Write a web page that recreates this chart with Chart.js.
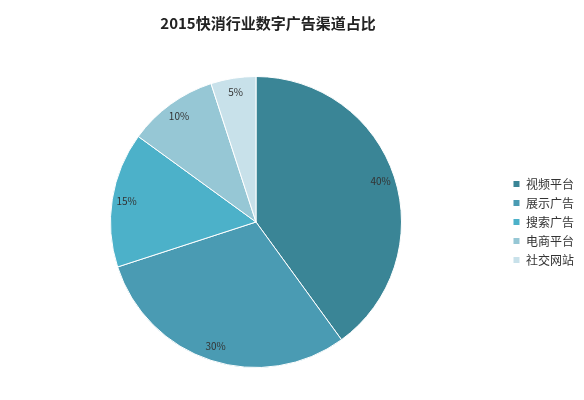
<!DOCTYPE html>
<html><head><meta charset="utf-8">
<script src="https://cdn.jsdelivr.net/npm/chart.js@4"></script>
<style>body{margin:0;background:#fff}#w{width:584px;height:400px}</style>
</head><body><div id="w"><canvas id="c"></canvas></div>
<script>
const categories = ['视频平台','展示广告','搜索广告','电商平台','社交网站'];
const values = [40, 30, 15, 10, 5];
const colors = ['#3a8596','#4a9bb3','#4cb1c9','#96c7d5','#c8e1ea'];
const title = '2015快消行业数字广告渠道占比';
const labelPlugin = {
  id: 'lbl',
  afterDatasetsDraw(chart) {
    const ctx = chart.ctx;
    ctx.save();
    ctx.font = '10px "Noto Sans CJK SC", sans-serif';
    ctx.fillStyle = '#333';
    ctx.textAlign = 'center'; ctx.textBaseline = 'middle';
    chart.getDatasetMeta(0).data.forEach((a, i) => {
      const m = (a.startAngle + a.endAngle) / 2, r = a.outerRadius * 0.9;
      ctx.fillText(values[i] + '%', a.x + Math.cos(m) * r, a.y + Math.sin(m) * r);
    });
    ctx.font = 'bold 15px "Noto Sans CJK SC", sans-serif';
    ctx.fillStyle = '#222';
    ctx.fillText(title, 268, 23);
    ctx.restore();
  }
};
new Chart(document.getElementById('c'), {
  type: 'pie',
  data: { labels: categories, datasets: [{ data: values, backgroundColor: colors, borderColor: '#fff', borderWidth: 1 }] },
  options: {
    responsive: true, maintainAspectRatio: false, animation: false,
    layout: { padding: { top: 76, bottom: 32, left: 6, right: 0 } },
    plugins: {
      tooltip: { enabled: false },
      legend: { position: 'right', labels: { boxWidth: 7, boxHeight: 7, padding: 7, color: '#333', font: { size: 12, family: '"Noto Sans CJK SC", sans-serif' } } }
    }
  },
  plugins: [labelPlugin]
});
</script></body></html>
